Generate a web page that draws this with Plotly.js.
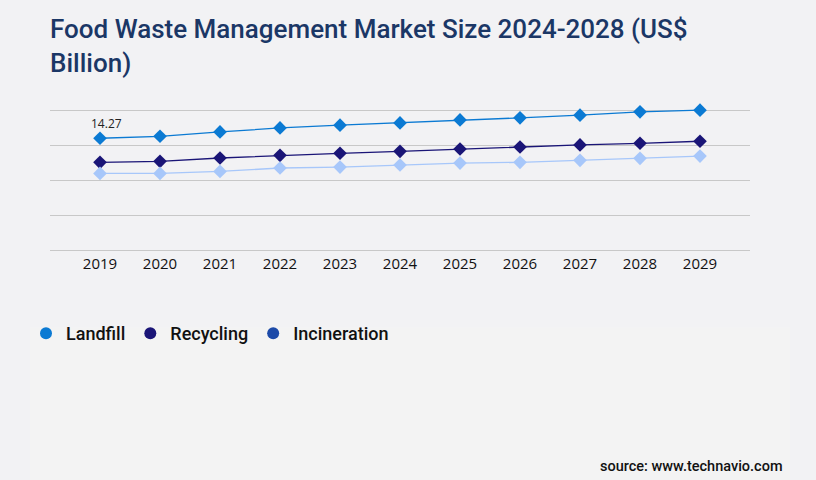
<!DOCTYPE html>
<html>
<head>
<meta charset="utf-8">
<script src="https://cdn.plot.ly/plotly-3.0.1.min.js"></script>
<style>
  html, body { margin: 0; padding: 0; background: #f2f2f4; }
  #chart { width: 816px; height: 480px; }
</style>
</head>
<body>
<div id="chart"></div>
<script>
// values (US$ billion)
var years = [2019, 2020, 2021, 2022, 2023, 2024, 2025, 2026, 2027, 2028, 2029];
var landfill = [14.27, 14.52, 15.07, 15.58, 15.93, 16.22, 16.60, 16.86, 17.20, 17.62, 17.84];
var recycling = [11.21, 11.34, 11.76, 12.10, 12.36, 12.61, 12.91, 13.16, 13.42, 13.63, 13.89];
var incineration = [9.81, 9.81, 10.06, 10.49, 10.61, 10.87, 11.12, 11.21, 11.47, 11.72, 12.01];
var seriesNames = ['Landfill', 'Recycling', 'Incineration'];

var lineColors = ['#0b7ad3', '#1a1577', '#a7c7fa'];
var legendColors = ['#0b7ad3', '#1a1577', '#1c4aa8'];
var seriesValues = [landfill, recycling, incineration];

var traces = [];
for (var i = 0; i < seriesValues.length; i++) {
    traces.push({
        x: years,
        y: seriesValues[i],
        type: 'scatter',
        mode: 'lines+markers',
        name: seriesNames[i],
        showlegend: false,
        cliponaxis: false,
        line: {color: lineColors[i], width: 1.3},
        marker: {color: lineColors[i], symbol: 'diamond', size: 10.5}
    });
}
// legend entries use round markers (and a different blue for incineration) in the original
for (var i = 0; i < seriesNames.length; i++) {
    traces.push({
        x: [null],
        y: [null],
        type: 'scatter',
        mode: 'markers',
        name: seriesNames[i],
        marker: {color: legendColors[i], symbol: 'circle', size: 12}
    });
}

var layout = {
    width: 816,
    height: 480,
    paper_bgcolor: '#f2f2f4',
    plot_bgcolor: 'rgba(0,0,0,0)',
    margin: {l: 50, r: 66, t: 101, b: 227},
    title: {
        text: 'Food Waste Management Market Size 2024-2028 (US$<br>Billion)',
        font: {family: 'Roboto', size: 26, color: '#1b3766', weight: 500},
        xref: 'container',
        yref: 'container',
        x: 50 / 816,
        xanchor: 'left',
        y: 1 - 38 / 480,
        yanchor: 'top'
    },
    xaxis: {
        range: [2018.1667, 2029.8333],
        tickvals: years,
        ticktext: years.map(String),
        showgrid: false,
        zeroline: false,
        showline: false,
        ticks: '',
        tickfont: {family: 'Open Sans', size: 15, color: '#111111'}
    },
    yaxis: {
        range: [-0.3, 19],
        tick0: 0,
        dtick: 4.46,
        showgrid: true,
        gridcolor: '#c8c8c8',
        gridwidth: 1,
        zeroline: false,
        showticklabels: false,
        ticks: ''
    },
    showlegend: true,
    legend: {
        orientation: 'h',
        xref: 'container',
        yref: 'container',
        x: 26 / 816,
        y: 1 - 315 / 480,
        yanchor: 'top',
        bgcolor: 'rgba(0,0,0,0)',
        font: {family: 'Roboto', size: 18, color: '#111111', weight: 500}
    },
    shapes: [{
        type: 'rect',
        xref: 'paper',
        yref: 'paper',
        x0: (30 - 50) / 700,
        x1: (790 - 50) / 700,
        y0: -1.6,
        y1: (252.65 - 327) / 151.5,
        fillcolor: '#f3f3f3',
        line: {width: 0},
        layer: 'below'
    }],
    annotations: [{
        x: years[0],
        y: landfill[0],
        text: landfill[0].toFixed(2),
        showarrow: false,
        xshift: 6,
        yshift: 15,
        font: {family: 'Open Sans', size: 12, color: '#222222'}
    }, {
        xref: 'paper',
        yref: 'paper',
        x: (785 - 50) / 700,
        y: (252.65 - 465) / 151.5,
        xanchor: 'right',
        yanchor: 'middle',
        text: 'source: www.technavio.com',
        showarrow: false,
        font: {family: 'Roboto', size: 14.5, color: '#111111', weight: 500}
    }]
};

Plotly.newPlot('chart', traces, layout, {displayModeBar: false, staticPlot: true});
</script>
</body>
</html>
